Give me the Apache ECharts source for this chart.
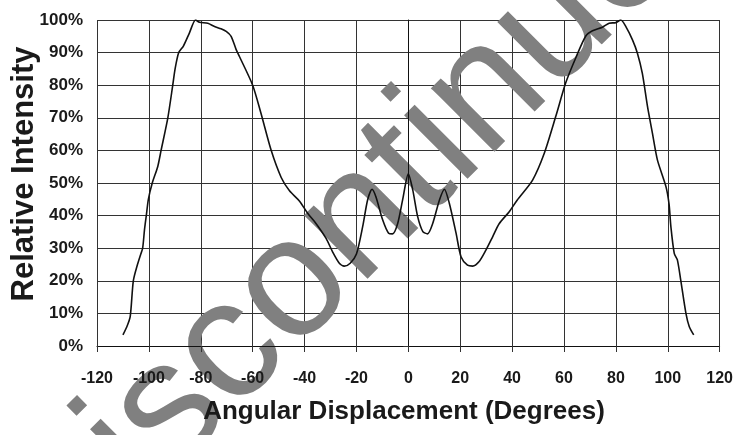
<!DOCTYPE html>
<html>
<head>
<meta charset="utf-8">
<script src="https://cdn.jsdelivr.net/npm/echarts@6/dist/echarts.min.js"></script>
<style>
html,body{margin:0;padding:0;background:#fff;}
#chart{width:736px;height:435px;}
</style>
</head>
<body>
<div id="chart"></div>
<script>
// Angular displacement (degrees)
var angles = [-110,-108.5,-107.2,-106,-104.4,-103.2,-102.4,-101.7,-101,-100.2,-98.7,-96.6,-95.3,-92.7,-90.8,-89.9,-88.5,-86.7,-84.4,-82,
  -80.5,-77.3,-74.7,-72.2,-70.2,-68.3,-66.4,-65.1,-60,-56.8,-52.9,-49,-45.8,-42,-38.8,-35.6,-31.7,-29.2,-26.6,-24.7,-22.4,-20,
  -17.6,-15.7,-14,-12.5,-9.9,-7.6,-6.1,-4.1,-2.2,0,1.7,3.6,5.6,7.4,9.4,12,13.9,15.8,18.4,20.3,22.8,24.8,27.3,29.9,32.5,35,38.9,
  42,47.9,52.4,56.9,60.7,64.6,68.4,71,74.8,77.4,80,81.9,83.9,86.4,88.3,90.2,92.2,94.1,96,99.3,100.5,101.2,102.5,103.7,105,107,108.3,110];
// Relative intensity (%)
var intensity = [3.4,5.9,9,20,25,28,30,35.6,40,45,50,55,60,70,80,85,90,92,96,100,
  99.3,99,98,97.3,96.5,95,91,88.8,80,71.4,60.1,51.7,47.6,44.5,40.7,37.6,33,28.9,25.4,24.5,25.4,28.2,
  36.6,44.8,48.1,45.8,38.7,34.6,34.4,37.6,44.8,52.8,47.9,39.7,35.1,34.4,37.6,44.8,48.1,43.8,34.6,27.4,24.8,24.5,25.9,29.4,33.5,37.5,41.2,
  44.8,50.9,59.1,70.6,80.8,88.5,95.1,96.7,97.8,99,99.2,100,97.9,93.9,89.8,83.6,73.4,65.2,57.1,48.9,43.5,36.6,28.4,26.4,20.2,10,5.9,3.4];
var xTicks = {min:-120, max:120, interval:20};
var yTicks = {min:0, max:100, interval:10};
var xTitle = 'Angular Displacement (Degrees)';
var yTitle = 'Relative Intensity';
var watermark = 'Discontinued';

var FONT = '"Liberation Sans", Arial, sans-serif';
var data = angles.map(function(a,i){return [a, intensity[i]];});

var chart = echarts.init(document.getElementById('chart'), null, {renderer:'canvas'});
chart.setOption({
  animation:false,
  backgroundColor:'#ffffff',
  grid:{left:97, right:15, top:20, bottom:89, containLabel:false},
  xAxis:[
    {type:'value', position:'top', min:xTicks.min, max:xTicks.max, interval:xTicks.interval, z:0,
     axisLine:{show:false}, axisTick:{show:false}, axisLabel:{show:false},
     splitLine:{show:true, lineStyle:{color:'#333', width:1}}},
    {type:'value', position:'bottom', min:xTicks.min, max:xTicks.max, interval:xTicks.interval, z:3,
     axisLine:{show:true, lineStyle:{color:'#111', width:1}},
     axisTick:{show:true, inside:false, length:6, lineStyle:{color:'#333'}},
     axisLabel:{show:true, margin:25, color:'#1a1a1a', fontFamily:FONT, fontWeight:'bold', fontSize:16},
     splitLine:{show:false}}
  ],
  yAxis:[
    {type:'value', position:'right', min:yTicks.min, max:yTicks.max, interval:yTicks.interval, z:0,
     axisLine:{show:false}, axisTick:{show:false}, axisLabel:{show:false},
     splitLine:{show:true, lineStyle:{color:'#333', width:1}}},
    {type:'value', position:'left', min:yTicks.min, max:yTicks.max, interval:yTicks.interval, z:3,
     axisLine:{show:true, lineStyle:{color:'#111', width:1}},
     axisTick:{show:true, inside:false, length:5, lineStyle:{color:'#333'}},
     axisLabel:{show:true, margin:14, color:'#1a1a1a', fontFamily:FONT, fontWeight:'bold', fontSize:17,
       formatter:function(v){return v+'%';}},
     splitLine:{show:false}}
  ],
  graphic:[
    {type:'text', z:1, x:373, y:207, rotation:Math.PI/4, silent:true,
     style:{text:watermark, fill:'#808080', font:'normal 170px ' + FONT, align:'center', verticalAlign:'middle',
            textAlign:'center', textVerticalAlign:'middle'}},
    {type:'text', z:4, x:404, y:412, silent:true,
     style:{text:xTitle, fill:'#1a1a1a', font:'bold 26px ' + FONT, align:'center', verticalAlign:'middle',
            textAlign:'center', textVerticalAlign:'middle'}},
    {type:'text', z:4, x:24, y:174, rotation:Math.PI/2, silent:true,
     style:{text:yTitle, fill:'#1a1a1a', font:'bold 31px ' + FONT, align:'center', verticalAlign:'middle',
            textAlign:'center', textVerticalAlign:'middle'}}
  ],
  series:[{
    type:'line', xAxisIndex:1, yAxisIndex:1, z:5,
    data:data, showSymbol:false, smooth:0.25,
    lineStyle:{color:'#111', width:1.6}
  }]
});
</script>
</body>
</html>
